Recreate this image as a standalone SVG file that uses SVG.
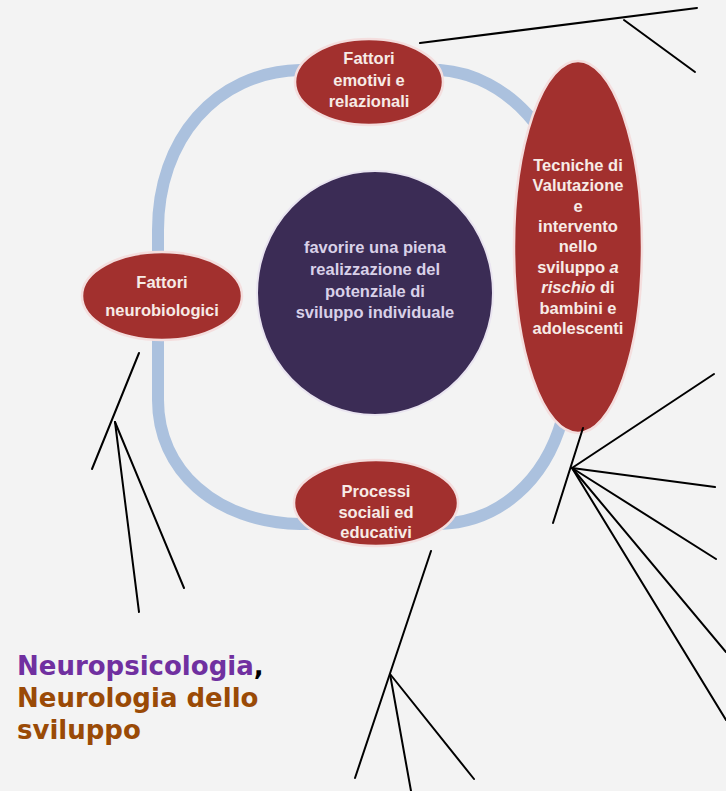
<svg xmlns="http://www.w3.org/2000/svg" width="726" height="791" viewBox="0 0 726 791">
<style>
.ring{fill:none;stroke:#abc1de;stroke-width:12}
.red{fill:#a2302e;stroke:#f4dede;stroke-width:2.5}
.pur{fill:#3b2c55;stroke:#e9e4f0;stroke-width:2}
.t{font-family:"Liberation Sans",Arial,sans-serif;font-weight:bold;font-size:16.5px;text-anchor:middle;fill:#f7ebe6}
.tp{fill:#d9d1e8}
.ln{stroke:#000;stroke-width:2;fill:none;stroke-linecap:round}
.big{font-family:"DejaVu Sans",Verdana,sans-serif;font-weight:bold;font-size:26px}
</style>
<rect width="726" height="791" fill="#f3f3f3"/>
<path class="ring" d="M 300,70 C 215,72 158,140 158,230 L 158,400 C 158,470 215,522 300,524 L 440,524 C 500,522 545,480 562,420 L 570,200 C 560,140 510,75 440,70 Z"/>
<g id="node-center">
<ellipse class="pur" cx="375" cy="293" rx="118" ry="122"/>
<text class="t tp"><tspan x="375" y="253">favorire una piena</tspan><tspan x="375" y="275">realizzazione del</tspan><tspan x="375" y="297">potenziale di</tspan><tspan x="375" y="318">sviluppo individuale</tspan></text>
</g>
<g id="node-top">
<ellipse class="red" cx="369" cy="82" rx="74" ry="43"/>
<text class="t"><tspan x="369" y="64">Fattori</tspan><tspan x="369" y="86">emotivi e</tspan><tspan x="369" y="107">relazionali</tspan></text>
</g>
<g id="node-left">
<ellipse class="red" cx="162" cy="296" rx="80" ry="44"/>
<text class="t"><tspan x="162" y="288">Fattori</tspan><tspan x="162" y="316">neurobiologici</tspan></text>
</g>
<g id="node-bottom">
<ellipse class="red" cx="376" cy="503" rx="82" ry="43"/>
<text class="t"><tspan x="376" y="497">Processi</tspan><tspan x="376" y="518">sociali ed</tspan><tspan x="376" y="538">educativi</tspan></text>
</g>
<g id="node-right">
<ellipse class="red" cx="578" cy="247" rx="64" ry="186"/>
<text class="t"><tspan x="578" y="171">Tecniche di</tspan><tspan x="578" y="191">Valutazione</tspan><tspan x="578" y="212">e</tspan><tspan x="578" y="232">intervento</tspan><tspan x="578" y="252">nello</tspan><tspan x="578" y="273">sviluppo <tspan font-style="italic">a</tspan></tspan><tspan x="578" y="293"><tspan font-style="italic">rischio</tspan> di</tspan><tspan x="578" y="314">bambini e</tspan><tspan x="578" y="334">adolescenti</tspan></text>
</g>
<g id="connectors">
<line class="ln" x1="420" y1="43" x2="697" y2="8"/>
<line class="ln" x1="624" y1="20" x2="695" y2="72"/>
<line class="ln" x1="583" y1="428" x2="553" y2="523"/>
<line class="ln" x1="572" y1="468" x2="714" y2="374"/>
<line class="ln" x1="572" y1="468" x2="715" y2="487"/>
<line class="ln" x1="572" y1="468" x2="716" y2="559"/>
<line class="ln" x1="572" y1="468" x2="726" y2="652"/>
<line class="ln" x1="572" y1="468" x2="726" y2="720"/>
<line class="ln" x1="139" y1="353" x2="92" y2="469"/>
<line class="ln" x1="115" y1="422" x2="139" y2="612"/>
<line class="ln" x1="115" y1="422" x2="184" y2="588"/>
<line class="ln" x1="431" y1="551" x2="355" y2="778"/>
<line class="ln" x1="390" y1="674" x2="411" y2="791"/>
<line class="ln" x1="390" y1="674" x2="474" y2="779"/>
</g>
<text class="big" x="17" y="675"><tspan fill="#7030a0">Neuropsicologia</tspan><tspan fill="#000">,</tspan></text>
<text class="big" fill="#9a4a06"><tspan x="17" y="707">Neurologia dello</tspan><tspan x="17" y="739">sviluppo</tspan></text>
</svg>
